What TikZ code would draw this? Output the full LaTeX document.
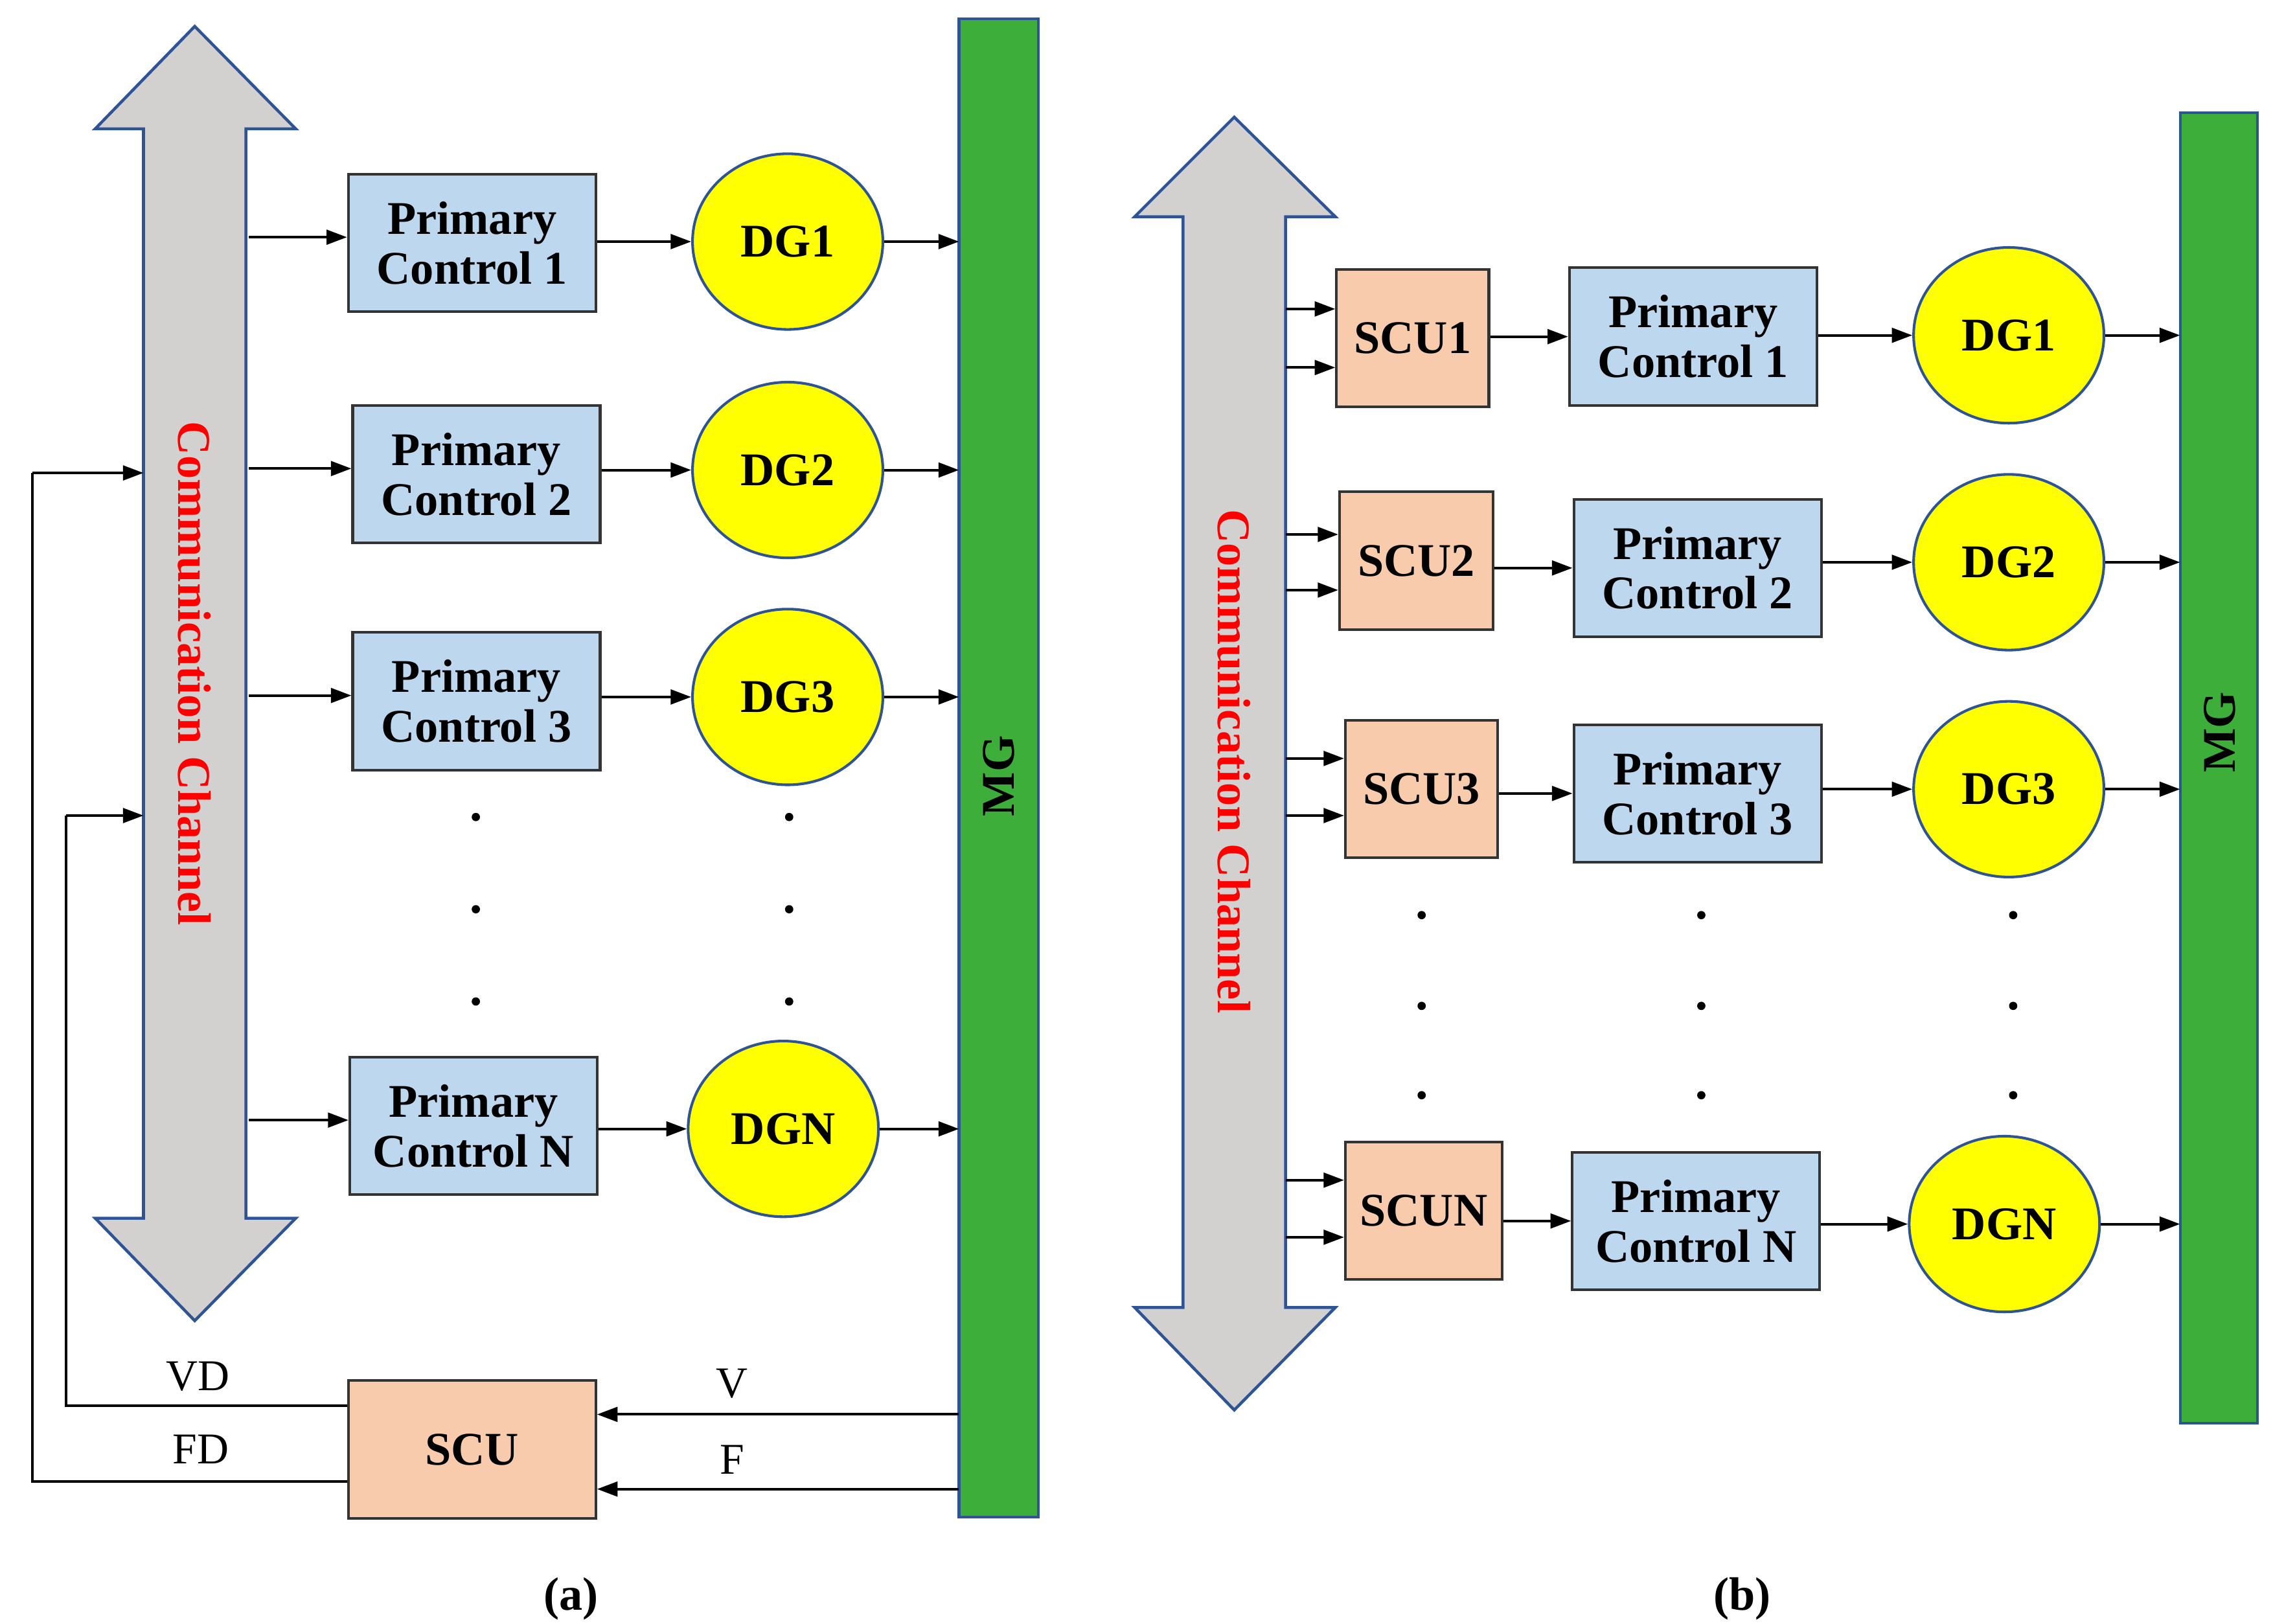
\documentclass[tikz,border=0pt]{standalone}
\usepackage{fontspec}
\setmainfont{Liberation Serif}
\usetikzlibrary{arrows.meta,shapes.geometric}
\definecolor{chgray}{RGB}{211,208,208}
\definecolor{chblue}{RGB}{46,84,150}
\definecolor{pcblue}{RGB}{189,215,238}
\definecolor{mggreen}{RGB}{62,174,58}
\definecolor{scupeach}{RGB}{248,203,173}
\definecolor{dgyellow}{RGB}{255,255,0}
\begin{document}
\begin{tikzpicture}[x=1pt,y=-1pt,
  big/.style={font=\fontsize{32}{34}\selectfont\bfseries},
  pcbox/.style={draw=black!80,line width=1.8pt,fill=pcblue,big,align=center,inner sep=0pt},
  scubox/.style={draw=black!80,line width=1.8pt,fill=scupeach,big,inner sep=0pt},
  dgc/.style={ellipse,draw=chblue,line width=1.8pt,fill=dgyellow,big,minimum width=130pt,minimum height=120pt,inner sep=0pt},
  mgbar/.style={draw=chblue,line width=1.8pt,fill=mggreen},
  chan/.style={draw=chblue,line width=2pt,fill=chgray},
  arr/.style={line width=1.8pt,-{Triangle[length=14pt,width=10pt]}},
  ln/.style={line width=1.8pt},
  dot/.style={circle,fill=black,inner sep=2pt},
  lbl/.style={font=\fontsize{30}{32}\selectfont}
]
\useasboundingbox (0,0) rectangle (1560,1109);
% ---------- (a) ----------
\draw[chan] (133,18) -- (202,88) -- (168,88) -- (168,832) -- (202,832) -- (133,902) -- (65,832) -- (98,832) -- (98,88) -- (65,88) -- cycle;
\node[rotate=-90,text=red,big] (cca) at (133,460) {Communication Channel};
\draw[mgbar] (655,13) rectangle (709,1036);
\node[rotate=90,big] (mga) at (682,530) {MG};
\coordinate (mgaL) at (655,0);
\foreach \n/\x/\y/\w/\dx/\dy/\lab in {1/237/118/169/538/165/1, 2/240/276/169/538/321/2, 3/240/431/169/538/476/3, N/238/721/169/535/771/N}{
  \node[pcbox,minimum width=169pt,minimum height=94pt,anchor=north west] (pca\n) at (\x,\y) {Primary\\Control \lab};
  \node[dgc] (dga\n) at (\dx,\dy) {DG\lab};
  \coordinate (sa\n) at (170,\y+44);
  \draw[arr] (sa\n) -- (pca\n.west |- sa\n);
  \draw[arr] (pca\n.east |- dga\n) -- (dga\n.west);
  \draw[arr] (dga\n.east) -- (dga\n -| mgaL);
}
\foreach \y in {558,621,684}{\node[dot] at (325,\y) {}; \node[dot] at (539,\y) {};}
\node[scubox,minimum width=169pt,minimum height=94pt,anchor=north west] (scua) at (237,942) {SCU};
\coordinate (va) at (655,966); \coordinate (fa) at (655,1017);
\draw[arr] (va) -- (va -| scua.east);
\draw[arr] (fa) -- (fa -| scua.east);
\node[lbl] at (500,945) {V};
\node[lbl] at (500,997) {F};
\coordinate (vd0) at (237,960); \coordinate (vd1) at (45,960); \coordinate (vd2) at (45,557); \coordinate (vd3) at (98,557);
\draw[ln] (vd0) -- (vd1) -- (vd2); \draw[arr] (vd2) -- (vd3);
\coordinate (fd0) at (237,1012); \coordinate (fd1) at (22,1012); \coordinate (fd2) at (22,323); \coordinate (fd3) at (98,323);
\draw[ln] (fd0) -- (fd1) -- (fd2); \draw[arr] (fd2) -- (fd3);
\node[lbl] at (135,940) {VD};
\node[lbl] at (137,990) {FD};
\node[big] (capa) at (390,1092) {(a)};
% ---------- (b) ----------
\draw[chan] (843,80) -- (912,148) -- (878,148) -- (878,893) -- (912,893) -- (843,963) -- (775,893) -- (808,893) -- (808,148) -- (775,148) -- cycle;
\node[rotate=-90,text=red,big] (ccb) at (843,520) {Communication Channel};
\draw[mgbar] (1489,77) rectangle (1542,972);
\node[rotate=90,big] (mgb) at (1516,500) {MG};
\coordinate (mgbL) at (1489,0);
\foreach \n/\sx/\sy/\sw/\px/\py/\dx/\dy/\ya/\yb in {1/912/183/104/1071/182/1372/229/211/251, 2/914/335/105/1074/340/1372/384/365/403, 3/918/491/104/1074/494/1372/539/518/557, N/918/779/107/1073/786/1369/836/806/845}{
  \node[scubox,minimum width=\sw pt,minimum height=94pt,anchor=north west] (scub\n) at (\sx,\sy) {SCU\n};
  \node[pcbox,minimum width=169pt,minimum height=94pt,anchor=north west] (pcb\n) at (\px,\py) {Primary\\Control \n};
  \node[dgc] (dgb\n) at (\dx,\dy) {DG\n};
  \coordinate (ia\n) at (878,\ya); \coordinate (ib\n) at (878,\yb);
  \draw[arr] (ia\n) -- (ia\n -| scub\n.west);
  \draw[arr] (ib\n) -- (ib\n -| scub\n.west);
  \draw[arr] (scub\n.east |- pcb\n.west) -- (pcb\n.west);
  \draw[arr] (pcb\n.east |- dgb\n) -- (dgb\n.west);
  \draw[arr] (dgb\n.east) -- (dgb\n -| mgbL);
}
\foreach \y in {625,687,748}{\node[dot] at (971,\y) {}; \node[dot] at (1162,\y) {}; \node[dot] at (1375,\y) {};}
\node[big] (capb) at (1190,1092) {(b)};
\end{tikzpicture}
\end{document}
